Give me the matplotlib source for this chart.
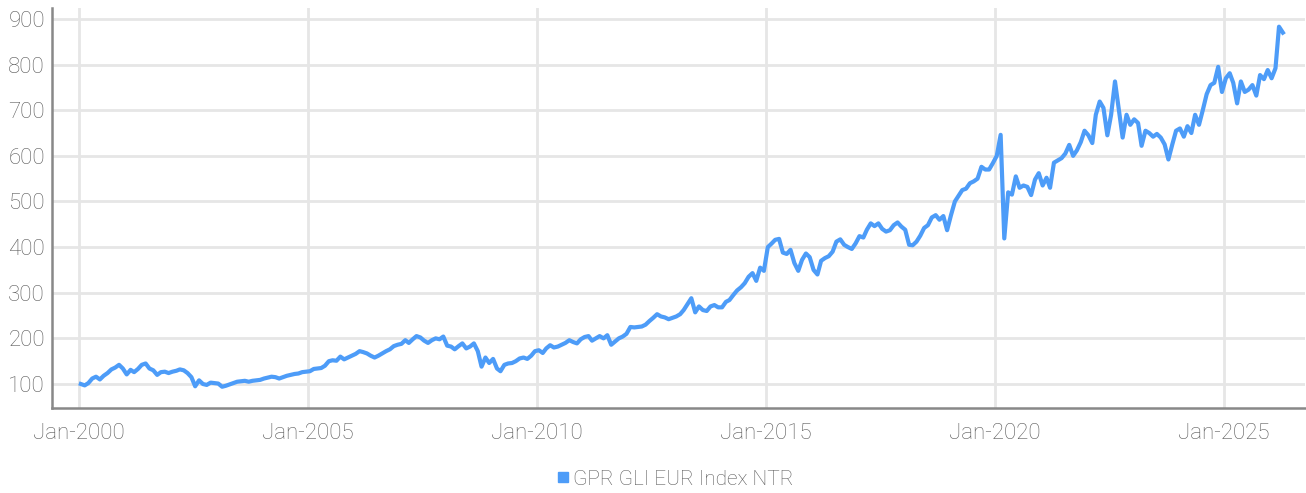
import matplotlib
matplotlib.use("Agg")
import matplotlib.pyplot as plt
import matplotlib.dates as mdates
from matplotlib.lines import Line2D
import pandas as pd

# monthly index levels (mid-month), Jan-2000 .. Apr-2026
index_values = [
    100, 97, 102, 112, 116, 110, 118, 124, 132, 136, 142, 134,   # 2000
    121, 131, 126, 133, 142, 145, 134, 130, 120, 126, 127, 124,  # 2001
    127, 129, 132, 130, 124, 115, 95, 108, 100, 98, 103, 102,    # 2002
    101, 94, 96, 99, 102, 105, 106, 107, 105, 107, 108, 109,     # 2003
    112, 114, 116, 115, 112, 115, 118, 120, 122, 123, 126, 127,  # 2004
    128, 133, 134, 135, 140, 150, 152, 151, 160, 154, 158, 162,  # 2005
    166, 172, 170, 167, 162, 158, 162, 167, 172, 176, 183, 186,  # 2006
    188, 196, 190, 198, 205, 202, 195, 190, 196, 200, 198, 204,  # 2007
    184, 182, 176, 183, 189, 178, 182, 189, 172, 138, 158, 146,  # 2008
    155, 134, 128, 142, 145, 146, 150, 156, 158, 155, 162, 172,  # 2009
    174, 168, 178, 185, 180, 182, 186, 190, 196, 192, 189, 198,  # 2010
    203, 205, 195, 200, 205, 200, 207, 186, 193, 200, 204, 210,  # 2011
    225, 224, 225, 226, 230, 238, 245, 253, 248, 246, 242, 245,  # 2012
    248, 253, 262, 275, 288, 257, 270, 262, 260, 270, 273, 268,  # 2013
    268, 280, 284, 295, 305, 312, 321, 335, 343, 326, 355, 348,  # 2014
    400, 408, 416, 418, 388, 385, 394, 365, 348, 372, 386, 378,  # 2015
    350, 340, 370, 376, 380, 390, 412, 417, 405, 400, 396, 408,  # 2016
    424, 421, 438, 452, 446, 452, 440, 434, 437, 448, 454, 445,  # 2017
    438, 405, 404, 412, 425, 442, 448, 465, 470, 460, 468, 437,  # 2018
    470, 500, 512, 525, 528, 540, 544, 550, 576, 570, 570, 584,  # 2019
    600, 646, 419, 520, 515, 555, 530, 535, 532, 514, 548, 562,  # 2020
    535, 552, 530, 585, 590, 595, 605, 624, 600, 612, 630, 655,  # 2021
    645, 628, 690, 719, 705, 645, 690, 763, 700, 640, 690, 668,  # 2022
    680, 672, 622, 655, 650, 642, 648, 640, 625, 592, 625, 655,  # 2023
    660, 642, 665, 650, 690, 668, 700, 735, 755, 760, 795, 740,  # 2024
    770, 781, 760, 715, 763, 740, 745, 755, 732, 777, 768, 788,  # 2025
    770, 792, 883, 870,                                          # 2026
]
dates = pd.date_range("2000-01-01", periods=len(index_values), freq="MS") + pd.Timedelta(days=14)

series_name = "GPR GLI EUR Index NTR"
tick_years = [2000, 2005, 2010, 2015, 2020, 2025]
y_ticks = [100, 200, 300, 400, 500, 600, 700, 800, 900]

line_color = "#4d9cf8"
text_color = "#5a5a5a"

plt.rcParams["font.family"] = ["Roboto", "DejaVu Sans"]
plt.rcParams["font.weight"] = "light"

fig = plt.figure(figsize=(13.06, 4.93), dpi=100)
ax = fig.add_axes([0.0398, 0.1724, 0.9594, 0.8114])

ax.plot(dates, index_values, color=line_color, lw=3.0, solid_joinstyle="round")

ax.set_xlim(pd.Timestamp("1999-05-30"), pd.Timestamp("2026-10-08"))
ax.set_ylim(47.4, 924)

ax.set_xticks([pd.Timestamp(f"{y}-01-01") for y in tick_years])
ax.xaxis.set_major_formatter(mdates.DateFormatter("%b-%Y"))
ax.set_yticks(y_ticks)

ax.grid(True, color="#e6e6e6", lw=2)
ax.set_axisbelow(True)
for s in ["top", "right"]:
    ax.spines[s].set_visible(False)
for s in ["left", "bottom"]:
    ax.spines[s].set_color("#888888")
    ax.spines[s].set_linewidth(1.8)

ax.tick_params(axis="both", length=0, labelsize=16, labelcolor=text_color)
ax.tick_params(axis="x", pad=11)
ax.tick_params(axis="y", pad=5)

handle = Line2D([], [], marker="s", ls="none", color=line_color, markersize=6.5)
fig.legend([handle], [series_name], loc="center", bbox_to_anchor=(0.517, 0.028),
           frameon=False, fontsize=15, labelcolor=text_color,
           handlelength=0.6, handletextpad=0.2)

fig.savefig("out.png", dpi=100)
